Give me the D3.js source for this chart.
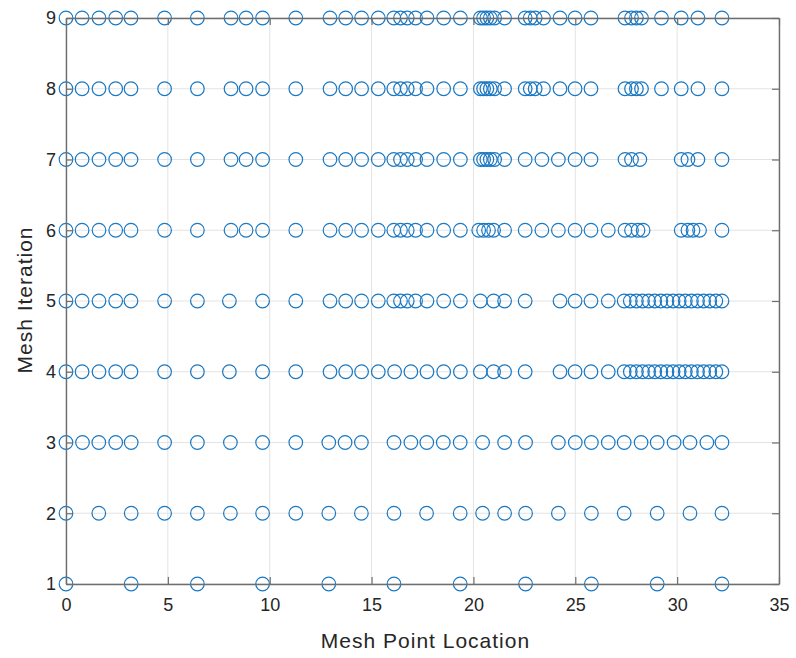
<!DOCTYPE html>
<html>
<head>
<meta charset="utf-8">
<script src="https://cdn.jsdelivr.net/npm/d3@7"></script>
<style>
  body { margin: 0; background: #fff; }
  text { font-family: "Liberation Sans", Arial, sans-serif; }
</style>
</head>
<body>
<div id="chart"></div>
<script>
// mesh point locations for each iteration
const iter1 = [0, 3.2, 6.45, 9.65, 12.9, 16.1, 19.35, 22.56, 25.79, 29.02, 32.2];
const iter2 = [0, 1.61, 3.2, 4.84, 6.45, 8.07, 9.65, 11.28, 12.9, 14.5, 16.1, 17.7, 19.35,
               20.45, 21.53, 22.56, 24.17, 25.79, 27.4, 29.02, 30.63, 32.2];
const iter3 = [0, 0.81, 1.61, 2.44, 3.2, 4.84, 6.45, 8.07, 9.65, 11.28, 12.9, 13.7, 14.5,
               16.1, 16.93, 17.71, 18.52, 19.35, 20.45, 21.53, 22.56, 24.17, 25.0, 25.79,
               26.62, 27.4, 28.23, 29.02, 29.85, 30.63, 31.46, 32.2];
const iter4 = [0, 0.79, 1.62, 2.44, 3.19, 4.84, 6.45, 8.02, 9.65, 11.28, 12.96, 13.73, 14.51,
               15.33, 16.13, 16.93, 17.72, 18.54, 19.36, 20.34, 20.99, 21.53, 22.54, 24.25,
               24.99, 25.77, 26.62, 27.4, 27.7, 28.0, 28.3, 28.6, 28.9, 29.2, 29.5, 29.8,
               30.1, 30.4, 30.7, 31.0, 31.3, 31.6, 31.9, 32.2];
const iter5 = [0, 0.79, 1.62, 2.44, 3.19, 4.84, 6.45, 8.02, 9.65, 11.28, 12.96, 13.73, 14.51,
               15.33, 16.09, 16.42, 16.75, 17.16, 17.72, 18.54, 19.36, 20.34, 20.99, 21.53,
               22.54, 24.25, 24.99, 25.77, 26.62, 27.4, 27.7, 28.0, 28.3, 28.6, 28.9, 29.2,
               29.5, 29.8, 30.1, 30.4, 30.7, 31.0, 31.3, 31.6, 31.9, 32.2];
const iter6 = [0, 0.79, 1.62, 2.44, 3.19, 4.84, 6.45, 8.1, 8.84, 9.65, 11.28, 12.96, 13.73,
               14.51, 15.33, 16.09, 16.42, 16.75, 17.16, 17.72, 18.54, 19.36, 20.26, 20.5,
               20.74, 20.99, 21.53, 22.54, 23.36, 24.17, 24.99, 25.77, 26.62, 27.44, 27.76,
               28.08, 28.33, 30.2, 30.53, 30.78, 31.1, 32.2];
const iter7 = [0, 0.79, 1.62, 2.44, 3.19, 4.84, 6.45, 8.1, 8.84, 9.65, 11.28, 12.96, 13.73,
               14.51, 15.33, 16.09, 16.42, 16.75, 17.16, 17.72, 18.54, 19.36, 20.34, 20.5,
               20.66, 20.83, 21.04, 21.53, 22.54, 23.36, 24.17, 24.99, 25.77, 27.44, 27.76,
               28.17, 30.2, 30.53, 31.02, 32.2];
const iter8 = [0, 0.79, 1.62, 2.44, 3.19, 4.84, 6.45, 8.1, 8.84, 9.65, 11.28, 12.96, 13.73,
               14.51, 15.33, 16.09, 16.42, 16.75, 17.16, 17.72, 18.54, 19.36, 20.34, 20.5,
               20.66, 20.83, 21.04, 21.53, 22.54, 22.79, 23.03, 23.44, 24.25, 24.99, 25.77,
               27.44, 27.76, 28.0, 28.25, 29.23, 30.2, 31.02, 32.2];
const iter9 = [0, 0.79, 1.62, 2.44, 3.19, 4.84, 6.45, 8.1, 8.84, 9.65, 11.28, 12.96, 13.73,
               14.51, 15.33, 16.09, 16.42, 16.75, 17.16, 17.72, 18.54, 19.36, 20.34, 20.5,
               20.66, 20.83, 21.04, 21.53, 22.54, 22.79, 23.03, 23.44, 24.25, 24.99, 25.77,
               27.44, 27.76, 28.0, 28.25, 29.23, 30.2, 31.02, 32.2];

const iterations = [iter1, iter2, iter3, iter4, iter5, iter6, iter7, iter8, iter9];
const xTicks = [0, 5, 10, 15, 20, 25, 30, 35];
const yTicks = [1, 2, 3, 4, 5, 6, 7, 8, 9];

const svgWidth = 796, svgHeight = 658;
const margin = {top: 18, right: 17, bottom: 74, left: 66},
      width = svgWidth - margin.left - margin.right,
      height = svgHeight - margin.top - margin.bottom;

const svg = d3.select("#chart").append("svg")
    .attr("width", svgWidth)
    .attr("height", svgHeight);

const g = svg.append("g")
    .attr("transform", "translate(" + margin.left + "," + margin.top + ")");

const x = d3.scaleLinear().domain([0, 35]).range([0, width]);
const y = d3.scaleLinear().domain([1, 9]).range([height, 0]);

// grid
g.append("g")
    .selectAll("line")
    .data(xTicks)
    .join("line")
    .attr("x1", d => x(d)).attr("x2", d => x(d))
    .attr("y1", 0).attr("y2", height)
    .attr("stroke", "#e3e3e3").attr("stroke-width", 1);
g.append("g")
    .selectAll("line")
    .data(yTicks)
    .join("line")
    .attr("x1", 0).attr("x2", width)
    .attr("y1", d => y(d)).attr("y2", d => y(d))
    .attr("stroke", "#e3e3e3").attr("stroke-width", 1);

// flatten points
const points = [];
iterations.forEach((arr, i) => arr.forEach(v => points.push({x: v, y: i + 1})));

g.append("g")
    .selectAll("circle")
    .data(points)
    .join("circle")
    .attr("cx", d => x(d.x))
    .attr("cy", d => y(d.y))
    .attr("r", 6.8)
    .attr("fill", "none")
    .attr("stroke", "#1a78c2")
    .attr("stroke-width", 1.2);

// axes
const axisColor = "#6e6e6e";
const tickLen = 7;

const xAxis = g.append("g")
    .attr("transform", "translate(0," + height + ")")
    .call(d3.axisBottom(x).tickValues(xTicks).tickSizeInner(-tickLen).tickSizeOuter(0).tickPadding(14));
const yAxis = g.append("g")
    .call(d3.axisLeft(y).tickValues(yTicks).tickSizeInner(-tickLen).tickSizeOuter(0).tickPadding(10));
const xTop = g.append("g")
    .call(d3.axisTop(x).tickValues(xTicks).tickSizeInner(-tickLen).tickSizeOuter(0).tickFormat(""));
const yRight = g.append("g")
    .attr("transform", "translate(" + width + ",0)")
    .call(d3.axisRight(y).tickValues(yTicks).tickSizeInner(-tickLen).tickSizeOuter(0).tickFormat(""));

[xAxis, yAxis, xTop, yRight].forEach(a => {
    a.select(".domain").attr("stroke", axisColor).attr("stroke-width", 1.4);
    a.selectAll(".tick line").attr("stroke", axisColor).attr("stroke-width", 1.2);
    a.selectAll(".tick text").attr("fill", "#262626").style("font-size", "18px")
        .style("font-family", "'Liberation Sans', Arial, sans-serif");
});

// axis labels
g.append("text")
    .attr("x", width / 2 + 3)
    .attr("y", height + 64)
    .attr("text-anchor", "middle")
    .attr("fill", "#262626")
    .style("font-size", "21px")
    .style("letter-spacing", "1px")
    .text("Mesh Point Location");

g.append("text")
    .attr("transform", "rotate(-90)")
    .attr("x", -height / 2 + 1)
    .attr("y", -34)
    .attr("text-anchor", "middle")
    .attr("fill", "#262626")
    .style("font-size", "21px")
    .style("letter-spacing", "1px")
    .text("Mesh Iteration");
</script>
</body>
</html>
